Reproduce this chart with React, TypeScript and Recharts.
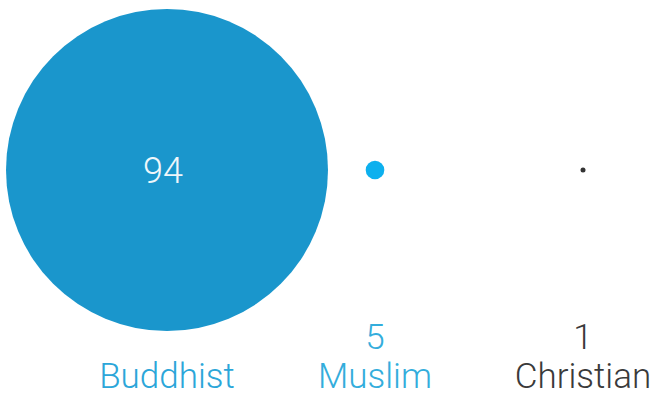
import { ScatterChart, Scatter, XAxis, YAxis, ZAxis, Cell } from "recharts";

// share of population by religion, %
const religions = ["Buddhist", "Muslim", "Christian"];
const shares = [94, 5, 1];

const circleColors = ["#1a96cc", "#0db0ee", "#333333"];
const labelColors = ["#2ba6d9", "#33addc", "#3a3a3a"];

// values this big get printed inside their circle, the rest go under it
const INSIDE_MIN = 50;

const FONT = "Roboto, 'Liberation Sans', Arial, sans-serif";

const data = religions.map((name, i) => ({
  name,
  value: shares[i],
  row: "all",
}));

const Bubble = (props: any) => {
  const { cx, cy, payload, fill } = props;
  // ZAxis range is used as circle diameter here
  const d = props.size ?? props.width;
  return (
    <g>
      <circle cx={cx} cy={cy} r={d / 2} fill={fill} />
      {payload.value >= INSIDE_MIN && (
        <text
          x={cx - 4}
          y={cy + 13}
          textAnchor="middle"
          fill="#eef7fb"
          fontSize={36}
          fontWeight={300}
          fontFamily={FONT}
        >
          {payload.value}
        </text>
      )}
    </g>
  );
};

const NameTick = (props: any) => {
  const { x, y, payload } = props;
  const i = religions.indexOf(payload.value);
  const v = shares[i];
  return (
    <g>
      {v < INSIDE_MIN && (
        <text
          x={x}
          y={y + 1}
          textAnchor="middle"
          fill={labelColors[i]}
          fontSize={35}
          fontWeight={300}
          fontFamily={FONT}
        >
          {v}
        </text>
      )}
      <text
        x={x}
        y={y + 40}
        textAnchor="middle"
        fill={labelColors[i]}
        fontSize={35}
        fontWeight={300}
        fontFamily={FONT}
      >
        {payload.value}
      </text>
    </g>
  );
};

export default function App() {
  return (
    <div style={{ position: "absolute", left: 0, top: 0, background: "#fff" }}>
      <ScatterChart
        width={662}
        height={397}
        margin={{ top: 0, right: 0, bottom: 0, left: 0 }}
      >
        <XAxis
          type="category"
          dataKey="name"
          scale="point"
          allowDuplicatedCategory={false}
          padding={{ left: 167, right: 79 }}
          height={57}
          axisLine={false}
          tickLine={false}
          interval={0}
          tick={<NameTick />}
        />
        <YAxis
          type="category"
          dataKey="row"
          scale="point"
          allowDuplicatedCategory={false}
          hide
          width={0}
        />
        <ZAxis type="number" dataKey="value" domain={[1, 94]} range={[5, 322]} />
        <Scatter data={data} shape={<Bubble />} isAnimationActive={false}>
          {data.map((d, i) => (
            <Cell key={d.name} fill={circleColors[i]} />
          ))}
        </Scatter>
      </ScatterChart>
    </div>
  );
}
